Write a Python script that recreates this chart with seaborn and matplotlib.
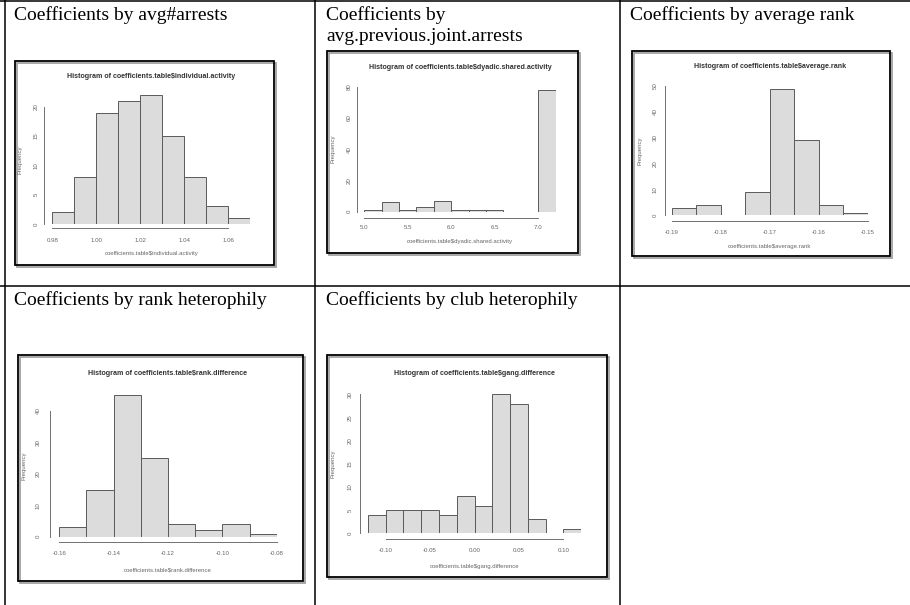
import numpy as np
import matplotlib
matplotlib.use("Agg")
import matplotlib.pyplot as plt
from matplotlib.patches import Rectangle
import seaborn as sns

# Zellentitel der Tabelle
cell_titles = ["Coefficients by avg#arrests",
               "Coefficients by\navg.previous.joint.arrests",
               "Coefficients by average rank",
               "Coefficients by rank heterophily",
               "Coefficients by club heterophily"]

# Histogrammdaten (Klassengrenzen + Haeufigkeiten)
act_edges = [0.98, 0.99, 1.00, 1.01, 1.02, 1.03, 1.04, 1.05, 1.06, 1.07]
act_counts = [2, 8, 19, 21, 22, 15, 8, 3, 1]
act_xticks = [0.98, 1.00, 1.02, 1.04, 1.06]
act_xlabels = ["0.98", "1.00", "1.02", "1.04", "1.06"]
act_yticks = [0, 5, 10, 15, 20]

dya_edges = [5.0, 5.2, 5.4, 5.6, 5.8, 6.0, 6.2, 6.4, 6.6, 6.8, 7.0, 7.2]
dya_counts = [1, 6, 1, 3, 7, 1, 1, 1, 0, 0, 78]
dya_xticks = [5.0, 5.5, 6.0, 6.5, 7.0]
dya_xlabels = ["5.0", "5.5", "6.0", "6.5", "7.0"]
dya_yticks = [0, 20, 40, 60, 80]

avg_edges = [-0.19, -0.185, -0.18, -0.175, -0.17, -0.165, -0.16, -0.155, -0.15]
avg_counts = [3, 4, 0, 9, 49, 29, 4, 1]
avg_xticks = [-0.19, -0.18, -0.17, -0.16, -0.15]
avg_xlabels = ["-0.19", "-0.18", "-0.17", "-0.16", "-0.15"]
avg_yticks = [0, 10, 20, 30, 40, 50]

rnk_edges = [-0.16, -0.15, -0.14, -0.13, -0.12, -0.11, -0.10, -0.09, -0.08]
rnk_counts = [3, 15, 45, 25, 4, 2, 4, 1]
rnk_xticks = [-0.16, -0.14, -0.12, -0.10, -0.08]
rnk_xlabels = ["-0.16", "-0.14", "-0.12", "-0.10", "-0.08"]
rnk_yticks = [0, 10, 20, 30, 40]

gng_edges = [-0.12, -0.10, -0.08, -0.06, -0.04, -0.02, 0.00, 0.02, 0.04, 0.06, 0.08, 0.10, 0.12]
gng_counts = [4, 5, 5, 5, 4, 8, 6, 30, 28, 3, 0, 1]
gng_xticks = [-0.10, -0.05, 0.00, 0.05, 0.10]
gng_xlabels = ["-0.10", "-0.05", "0.00", "0.05", "0.10"]
gng_yticks = [0, 5, 10, 15, 20, 25, 30]

sns.set_style("white")
plt.rcParams['font.family'] = ['Liberation Sans', 'DejaVu Sans']

W, H = 910, 605
fig = plt.figure(figsize=(W / 100, H / 100), dpi=100)

# Hintergrund-Achse in Pixelkoordinaten fuer Tabelle und Rahmen
bg = fig.add_axes([0, 0, 1, 1])
bg.set_xlim(0, W)
bg.set_ylim(H, 0)
bg.axis('off')

# Tabellenlinien
lw_tab = 1.1
bg.plot([0, W], [1, 1], color='black', lw=lw_tab)
bg.plot([0, W], [286, 286], color='black', lw=lw_tab)
for xv in [5, 314.5, 620]:
    bg.plot([xv, xv], [0, H], color='black', lw=lw_tab)

# Zellentitel
title_pos = [(14, 6), (326, 6), (630, 6), (14, 291), (326, 291)]
for (tx, ty), t in zip(title_pos, cell_titles):
    bg.text(tx, ty, t, ha='left', va='top', fontsize=14, family=['Liberation Serif'],
            color='black', linespacing=1.32)


def px2fig(x, y):
    return x / W, 1 - y / H


def panel(frame, edges, counts, xticks, xlabels, yticks, xmap, y0, yunit,
          yaxis_x, xaxis_y, title_y, tick_y, xlab_y, ylab_x, ytick_x, name):
    # Rahmen mit leichtem Schatten (Screenshot-Look)
    fx0, fy0, fx1, fy1 = frame
    bg.add_patch(Rectangle((fx0 + 1.5, fy0 + 1.5), fx1 - fx0, fy1 - fy0, fill=False,
                           edgecolor='#9a9a9a', lw=1.2))
    bg.add_patch(Rectangle((fx0, fy0), fx1 - fx0, fy1 - fy0, fill=False,
                           edgecolor='black', lw=1.3))

    (va, pa), (vb, pb) = xmap
    scale = (pb - pa) / (vb - va)
    left_px = pa + (edges[0] - va) * scale
    right_px = pa + (edges[-1] - va) * scale
    top_px = y0 - max(counts) * yunit

    l, b = px2fig(left_px, y0)
    ax = fig.add_axes([l, b, (right_px - left_px) / W, (y0 - top_px) / H])
    ax.patch.set_alpha(0)

    centers = [(edges[i] + edges[i + 1]) / 2 for i in range(len(counts))]
    sns.histplot(x=centers, weights=counts, bins=edges, ax=ax, color='#dcdcdc',
                 edgecolor='#5a5a5a', linewidth=0.7, alpha=1)
    ax.set_xlim(edges[0], edges[-1])
    ax.set_ylim(0, max(counts))

    for s in ['top', 'right']:
        ax.spines[s].set_visible(False)
    ax.spines['left'].set_position(('outward', (left_px - yaxis_x) * 0.72))
    ax.spines['bottom'].set_position(('outward', (xaxis_y - y0) * 0.72))
    ax.spines['left'].set_bounds(yticks[0], yticks[-1])
    ax.spines['bottom'].set_bounds(xticks[0], xticks[-1])
    for s in ['left', 'bottom']:
        ax.spines[s].set_color('#707070')
        ax.spines[s].set_linewidth(0.7)

    ticklen = 4
    ax.set_xticks(xticks)
    ax.set_xticklabels(xlabels)
    ax.set_yticks(yticks)
    ax.set_yticklabels([str(v) for v in yticks], rotation=90, va='center')
    ax.tick_params(axis='x', length=ticklen * 0.72, width=0.6, color='#707070',
                   labelsize=4.4, labelcolor='#666666',
                   pad=max(0.5, (tick_y - xaxis_y - ticklen - 3) * 0.72))
    ax.tick_params(axis='y', length=ticklen * 0.72, width=0.6, color='#707070',
                   labelsize=4.4, labelcolor='#666666',
                   pad=max(0.5, (yaxis_x - ytick_x - ticklen - 3.3) * 0.72))
    ax.set_xlabel('')
    ax.set_ylabel('')

    cx = (left_px + right_px) / 2
    bg.text(cx, title_y, 'Histogram of coefficients.table$' + name, ha='center',
            va='center', fontsize=5.1, fontweight='bold', color='#333333')
    bg.text(cx, xlab_y, 'coefficients.table$' + name, ha='center', va='center',
            fontsize=4.3, color='#666666')
    bg.text(ylab_x, (y0 + top_px) / 2, 'Frequency', ha='center', va='center',
            rotation=90, fontsize=4.3, color='#666666')
    return ax


panel((15, 61, 274, 265), act_edges, act_counts, act_xticks, act_xlabels, act_yticks,
      ((0.98, 52.3), (1.07, 250.3)), 224, 5.865,
      44, 228, 77, 241, 254, 20, 35.7, 'individual.activity')

panel((327, 51, 578, 253), dya_edges, dya_counts, dya_xticks, dya_xlabels, dya_yticks,
      ((5.0, 364.3), (7.0, 538.3)), 211.7, 1.605,
      356.7, 217.7, 67.3, 228, 241.7, 332.7, 349, 'dyadic.shared.activity')

panel((632, 51, 890, 256), avg_edges, avg_counts, avg_xticks, avg_xlabels, avg_yticks,
      ((-0.19, 671.7), (-0.15, 867.7)), 215.3, 2.64,
      665, 220.7, 66.7, 232.7, 246.7, 640, 654.3, 'average.rank')

panel((18, 355, 303, 581), rnk_edges, rnk_counts, rnk_xticks, rnk_xlabels, rnk_yticks,
      ((-0.16, 59.3), (-0.08, 276.7)), 536.7, 3.1425,
      50, 542.3, 373.3, 554.3, 570, 24.3, 37.7, 'rank.difference')

panel((327, 355, 607, 577), gng_edges, gng_counts, gng_xticks, gng_xlabels, gng_yticks,
      ((-0.10, 385.7), (0.10, 563.3)), 533.3, 4.633,
      360, 539, 373.3, 550.7, 566.7, 332.7, 349.3, 'gang.difference')

fig.savefig('out.png', dpi=100)
